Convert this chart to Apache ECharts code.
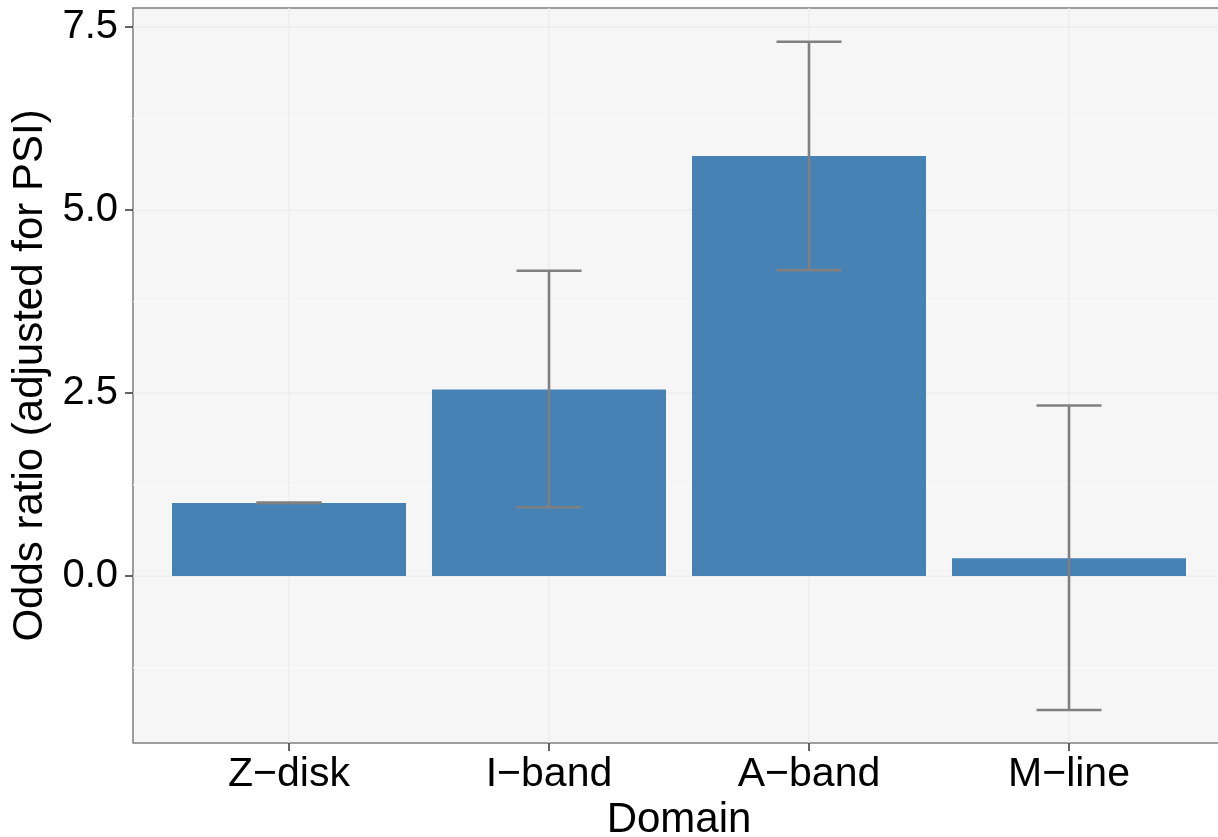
<!DOCTYPE html>
<html>
<head>
<meta charset="utf-8">
<script src="https://cdn.jsdelivr.net/npm/echarts@6/dist/echarts.min.js"></script>
<style>
  html, body { margin: 0; padding: 0; background: #ffffff; }
  #chart { width: 1218px; height: 837px; }
</style>
</head>
<body>
<div id="chart"></div>
<script>
// Odds ratios per sarcomere domain, with confidence interval bounds
const domains = ['Z\u2212disk', 'I\u2212band', 'A\u2212band', 'M\u2212line'];
const oddsRatio = [1.0, 2.55, 5.74, 0.245];
const ciLower = [1.0, 0.94, 4.18, -1.83];
const ciUpper = [1.0, 4.17, 7.30, 2.33];

// Axis ticks
const xTicks = [1, 2, 3, 4];
const yTicks = [0, 2.5, 5, 7.5];
const yMinorTicks = [-1.25, 1.25, 3.75, 6.25];

const FONT = '"Liberation Sans", Arial, Helvetica, sans-serif';
const BAR_COLOR = '#4682B4';
const ERR_COLOR = '#808080';

const barData = domains.map((d, i) => [xTicks[i], oddsRatio[i]]);
const errData = domains.map((d, i) => [xTicks[i], ciLower[i], ciUpper[i]]);

function renderGrid(params, api) {
  const cs = params.coordSys;
  const children = [];
  yMinorTicks.forEach(v => {
    const y = api.coord([1, v])[1];
    children.push({ type: 'line', shape: { x1: cs.x, y1: y, x2: cs.x + cs.width, y2: y },
      style: { stroke: '#FBFBFB', lineWidth: 1.1 } });
  });
  yTicks.forEach(v => {
    const y = api.coord([1, v])[1];
    children.push({ type: 'line', shape: { x1: cs.x, y1: y, x2: cs.x + cs.width, y2: y },
      style: { stroke: '#EBEBEB', lineWidth: 1.2 } });
  });
  xTicks.forEach(v => {
    const x = api.coord([v, 0])[0];
    children.push({ type: 'line', shape: { x1: x, y1: cs.y, x2: x, y2: cs.y + cs.height },
      style: { stroke: '#EBEBEB', lineWidth: 1.2 } });
  });
  return { type: 'group', children: children };
}

function renderBar(params, api) {
  const top = api.coord([api.value(0), api.value(1)]);
  const base = api.coord([api.value(0), 0]);
  const w = api.size([0.9, 0])[0];
  return {
    type: 'rect',
    shape: { x: top[0] - w / 2, y: Math.min(top[1], base[1]), width: w, height: Math.abs(base[1] - top[1]) },
    style: { fill: BAR_COLOR }
  };
}

function renderErr(params, api) {
  const lo = api.coord([api.value(0), api.value(1)]);
  const hi = api.coord([api.value(0), api.value(2)]);
  const cap = api.size([0.25, 0])[0];
  const st = { stroke: ERR_COLOR, lineWidth: 2.6 };
  return {
    type: 'group',
    children: [
      { type: 'line', shape: { x1: lo[0], y1: lo[1], x2: hi[0], y2: hi[1] }, style: st },
      { type: 'line', shape: { x1: lo[0] - cap / 2, y1: lo[1], x2: lo[0] + cap / 2, y2: lo[1] }, style: st },
      { type: 'line', shape: { x1: hi[0] - cap / 2, y1: hi[1], x2: hi[0] + cap / 2, y2: hi[1] }, style: st }
    ]
  };
}

const chart = echarts.init(document.getElementById('chart'), null, { renderer: 'canvas' });
chart.setOption({
  animation: false,
  textStyle: { fontFamily: FONT },
  grid: {
    left: 133, top: 8, right: -7, bottom: 94,
    outerBoundsMode: 'none', containLabel: false,
    show: true, backgroundColor: '#F6F6F6', borderColor: '#7F7F7F', borderWidth: 1.5
  },
  xAxis: {
    type: 'value', min: 0.4, max: 4.6, position: 'bottom',
    name: 'Domain', nameLocation: 'middle', nameGap: 54,
    nameTextStyle: { fontSize: 42, color: '#000', fontFamily: FONT },
    axisLine: { show: false, onZero: false },
    axisTick: { show: true, customValues: xTicks, length: 8, lineStyle: { color: '#333333', width: 1.5 } },
    axisLabel: {
      customValues: xTicks, margin: 11, fontSize: 41, color: '#000', fontFamily: FONT,
      formatter: v => domains[Math.round(v) - 1]
    },
    splitLine: { show: false }
  },
  yAxis: {
    type: 'value', min: -2.28, max: 7.76, position: 'left',
    name: 'Odds ratio (adjusted for PSI)', nameLocation: 'middle', nameGap: 82,
    nameTextStyle: { fontSize: 42, color: '#000', fontFamily: FONT },
    axisLine: { show: false, onZero: false },
    axisTick: { show: true, customValues: yTicks, length: 8, lineStyle: { color: '#333333', width: 1.5 } },
    axisLabel: {
      customValues: yTicks, margin: 15, fontSize: 40, color: '#000', fontFamily: FONT,
      formatter: v => v.toFixed(1)
    },
    splitLine: { show: false }
  },
  series: [
    { type: 'custom', name: 'grid', renderItem: renderGrid, data: [[1, 0]], z: 1, silent: true },
    { type: 'custom', name: 'Odds ratio', renderItem: renderBar, data: barData, z: 2,
      encode: { x: 0, y: 1 } },
    { type: 'custom', name: 'CI', renderItem: renderErr, data: errData, z: 3,
      encode: { x: 0, y: [1, 2] } }
  ]
});
</script>
</body>
</html>
